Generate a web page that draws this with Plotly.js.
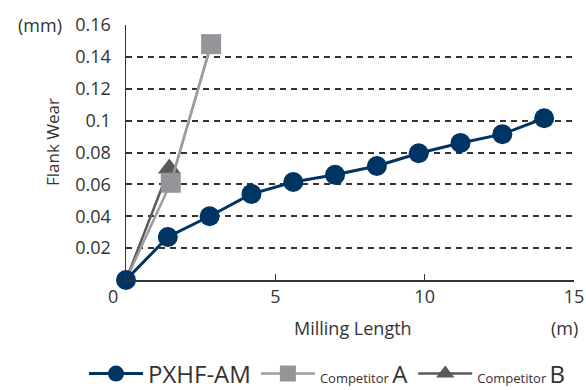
<!DOCTYPE html>
<html><head><meta charset="utf-8">
<script src="https://cdn.plot.ly/plotly-3.0.1.min.js"></script>
<style>html,body{margin:0;padding:0;background:#fff;}#chart{width:586px;height:390px;}</style>
</head><body><div id="chart"></div>
<script>
var pxhfX = [0, 1.4, 2.8, 4.2, 5.6, 7.0, 8.4, 9.8, 11.2, 12.6, 14.0];
var pxhfY = [0, 0.027, 0.040, 0.054, 0.0615, 0.066, 0.0715, 0.0795, 0.086, 0.0915, 0.1015];
var compAX = [0, 1.5, 2.85];
var compAY = [0, 0.061, 0.148];
var compBX = [0, 1.45];
var compBY = [0, 0.070];
var xTicks = [5, 10, 15];
var xTickText = ['5', '10', '15'];
var yTicks = [0.02, 0.04, 0.06, 0.08, 0.1, 0.12, 0.14, 0.16];
var yTickText = ['0.02', '0.04', '0.06', '0.08', '0.1', '0.12', '0.14', '0.16'];

var FONT = 'Open Sans, sans-serif';
var BLUE = '#003462', GRAY_A = '#939598', GRAY_A_LINE = '#9d9d9f', GRAY_B = '#58595b';
var traces = [
  // competitor lines from the origin (origin itself has no marker)
  {x: compBX, y: compBY, type: 'scatter', mode: 'lines', showlegend: false, cliponaxis: false,
   line: {color: GRAY_B, width: 2.5}},
  {x: compAX, y: compAY, type: 'scatter', mode: 'lines', showlegend: false, cliponaxis: false,
   line: {color: GRAY_A_LINE, width: 2.5}},
  {x: compBX.slice(1), y: compBY.slice(1), name: "<span style='font-size:13px'>Competitor </span>B", legendrank: 3, type: 'scatter', mode: 'lines+markers', cliponaxis: false,
   line: {color: GRAY_B, width: 2.5}, marker: {color: GRAY_B, size: 20, symbol: 'triangle-up'}},
  {x: compAX.slice(1), y: compAY.slice(1), name: "<span style='font-size:13px'>Competitor </span>A", legendrank: 2, type: 'scatter', mode: 'lines+markers', cliponaxis: false,
   line: {color: GRAY_A_LINE, width: 2.5}, marker: {color: GRAY_A, size: 20, symbol: 'square'}},
  {x: pxhfX, y: pxhfY, name: 'PXHF-AM', legendrank: 1, type: 'scatter', mode: 'lines+markers', cliponaxis: false,
   line: {color: BLUE, width: 3}, marker: {color: BLUE, size: 20, symbol: 'circle'}}
];
function px2x(p){return (p-126)/448;}
function px2y(p){return (280-p)/255;}
var layout = {
  width: 586, height: 390,
  margin: {l: 126, r: 12, t: 25, b: 110, autoexpand: false},
  paper_bgcolor: '#fff', plot_bgcolor: '#fff',
  font: {family: FONT, color: '#333', size: 16},
  showlegend: true,
  legend: {orientation: 'h', x: px2x(84), xanchor: 'left', y: px2y(374), yanchor: 'middle',
           font: {size: 24, color: '#333', family: FONT}, traceorder: 'normal', itemwidth: 54, tracegroupgap: 0},
  xaxis: {range: [0, 15], tickvals: xTicks, ticktext: xTickText, ticks: 'inside', ticklen: 6, tickwidth: 1.5, tickcolor: '#333',
          showline: true, linecolor: '#333', linewidth: 1.5, showgrid: false, zeroline: false,
          tickfont: {size: 18, color: '#333'}, fixedrange: true},
  yaxis: {range: [0, 0.16], tickvals: yTicks, ticktext: yTickText, ticks: '', ticklabelstandoff: 10,
          showline: true, linecolor: '#333', linewidth: 1.5, showgrid: true, gridcolor: '#333', gridwidth: 2,
          griddash: '6px,5px', zeroline: false, tickfont: {size: 18, color: '#333'}, fixedrange: true},
  annotations: [
    {text: '(mm)', xref: 'paper', yref: 'paper', x: px2x(64), y: px2y(25), xanchor: 'right', yanchor: 'middle', showarrow: false, font: {size: 18, color: '#333'}},
    {text: '0', xref: 'paper', yref: 'paper', x: px2x(113), y: px2y(296), xanchor: 'center', yanchor: 'middle', showarrow: false, font: {size: 18, color: '#333'}},
    {text: 'Milling Length', xref: 'paper', yref: 'paper', x: px2x(353), y: px2y(328), xanchor: 'center', yanchor: 'middle', showarrow: false, font: {size: 18, color: '#333'}},
    {text: '(m)', xref: 'paper', yref: 'paper', x: px2x(580), y: px2y(328), xanchor: 'right', yanchor: 'middle', showarrow: false, font: {size: 18, color: '#333'}},
    {text: 'Flank Wear', xref: 'paper', yref: 'paper', x: px2x(52), y: px2y(142), xanchor: 'center', yanchor: 'middle', textangle: -90, showarrow: false, font: {size: 17, color: '#333'}}
  ]
};
Plotly.newPlot('chart', traces, layout, {displayModeBar: false, staticPlot: true});
</script></body></html>
